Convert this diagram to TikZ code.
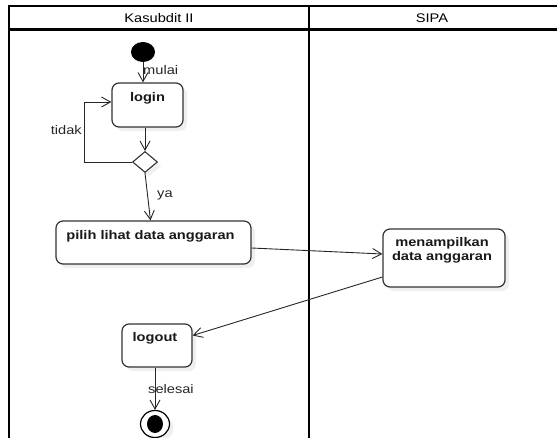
\documentclass[tikz,border=0pt]{standalone}
\usepackage{fontspec}
\setmainfont[FakeStretch=1.17]{Liberation Sans}
\usetikzlibrary{arrows.meta,shapes.geometric,shadows}

\begin{document}
\begin{tikzpicture}[x=1pt,y=-1pt,
  font=\fontsize{12.5}{14}\selectfont,
  lane/.style={line width=2.6pt, draw=black},
  shade/.style={drop shadow={shadow xshift=4pt, shadow yshift=-4pt, fill=black!12}},
  act/.style={draw=black!80, line width=1.2pt, rounded corners=7pt, fill=white, shade, inner sep=0pt},
  acttext/.style={anchor=center, font=\fontsize{12.5}{14}\selectfont\bfseries, text=black!90, align=center, inner sep=0pt},
  flow/.style={draw=black!85, line width=0.9pt, -{Straight Barb[length=9pt,width=10pt]}},
  guard/.style={text=black!85, inner sep=0pt}
]
\useasboundingbox (0,0) rectangle (557,438);

% swimlane frame
\draw[lane] (9,438) -- (9,6) -- (557,6);
\draw[lane] (9,29.5) -- (557,29.5);
\draw[lane] (309,6) -- (309,438);
\node (laneA) at (159,18) {Kasubdit II};
\node (laneB) at (432,18) {SIPA};

% start and end states
\node[ellipse, fill=black, minimum width=24pt, minimum height=20pt, inner sep=0pt] (start) at (143,52) {};
\node[ellipse, draw=black, line width=1.2pt, fill=white, shade, minimum width=29pt, minimum height=27pt, inner sep=0pt] (end) at (155,424) {};
\node[ellipse, fill=black, minimum width=16pt, minimum height=18pt, inner sep=0pt] (endin) at (end) {};

% activities
\node[act, minimum width=71pt, minimum height=44pt,
  label={[acttext, yshift=-16pt]north:login}] (login) at (147.5,105) {};
\node[diamond, draw=black!80, line width=1.1pt, fill=white, shade, minimum width=25pt, minimum height=21pt, inner sep=0pt] (dec) at (145,162) {};
\node[act, minimum width=195pt, minimum height=43pt,
  label={[acttext, yshift=-16pt, xshift=-3pt]north:pilih lihat data anggaran}] (pilih) at (153.5,242.5) {};
\node[act, minimum width=122pt, minimum height=58pt,
  label={[acttext, yshift=-22pt, xshift=-2pt]north:menampilkan\\data anggaran}] (tampil) at (444,258) {};
\node[act, minimum width=70pt, minimum height=43pt,
  label={[acttext, yshift=-15pt, xshift=-2pt]north:logout}] (logout) at (157,345.5) {};

% control flow
\coordinate (back) at (84,102);
\draw[flow] (start.south) -- (start.south |- login.north);
\draw[flow] (login.south -| dec.north) -- (dec.north);
\draw[flow] (dec.west) -| (back) -- (back -| login.west);
\draw[flow] (dec.south) -- ([xshift=-3pt]pilih.north);
\draw[flow] ([yshift=-5.5pt]pilih.east) -- ([yshift=4pt]tampil.west);
\draw[flow] ([yshift=-19pt]tampil.west) -- ([yshift=10pt]logout.east);
\draw[flow] (logout.south -| end.north) -- (end.north);

% guard labels
\node[guard, anchor=west] (lmulai) at (143,70) {mulai};
\node[guard, anchor=east] (ltidak) at (82,130) {tidak};
\node[guard, anchor=west] (lya) at (157,195) {ya};
\node[guard, anchor=west] (lselesai) at (148,389) {selesai};
\end{tikzpicture}
\end{document}
